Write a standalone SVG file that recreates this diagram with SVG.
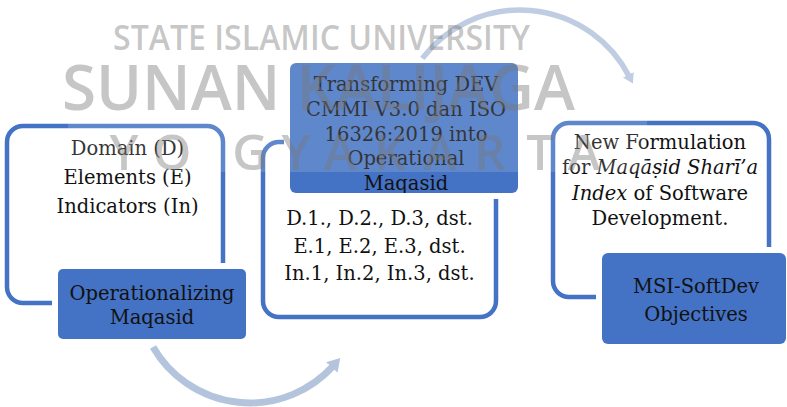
<svg xmlns="http://www.w3.org/2000/svg" width="787" height="407" viewBox="0 0 787 407">
<style>
.outer{fill:none;stroke:#4472C4;stroke-width:4.5}
.halo{fill:#fff}
.box{fill:#4472C4}
.t{font-family:"DejaVu Serif","Liberation Serif",serif;font-size:19.5px;fill:#111;text-anchor:middle}
.i{font-style:italic}
.arc{fill:none;stroke:#B4C4DC}
.wm{font-family:"Open Sans","Noto Sans",sans-serif;font-weight:600;fill:#777;fill-opacity:.42}
</style>
<defs>
<marker id="ah" viewBox="0 -1.1 1.8 2.2" markerWidth="1.8" markerHeight="2.2" refX="0.3" refY="0" orient="auto" markerUnits="strokeWidth">
<path d="M0,-1.1 L1.8,0 L0,1.1 z" fill="#B4C4DC"/>
</marker>
<clipPath id="cm"><rect x="290" y="63" width="228" height="130" rx="6"/></clipPath>
</defs>
<rect width="787" height="407" fill="#fff"/>

<g id="node-operationalizing">
<rect class="outer" x="7" y="126" width="216" height="177" rx="16"/>
<text class="t" x="127.5" y="155">Domain (D)</text>
<text class="t" x="127.5" y="184">Elements (E)</text>
<text class="t" x="127.5" y="213">Indicators (In)</text>
<rect class="halo" x="52" y="263" width="200" height="82" rx="9"/>
<rect class="box" x="58" y="269" width="188" height="70" rx="5"/>
<text class="t" x="152" y="300">Operationalizing</text>
<text class="t" x="152" y="324">Maqasid</text>
</g>

<g id="node-transforming">
<rect class="outer" x="263" y="142" width="233" height="175" rx="16"/>
<text class="t" x="379.5" y="225">D.1., D.2., D.3, dst.</text>
<text class="t" x="379.5" y="253">E.1, E.2, E.3, dst.</text>
<text class="t" x="379.5" y="280">In.1, In.2, In.3, dst.</text>
<rect class="halo" x="284" y="57" width="240" height="142" rx="10"/>
<rect class="box" x="290" y="63" width="228" height="130" rx="6"/>
<g clip-path="url(#cm)">
<text class="t" x="406" y="91">Transforming DEV</text>
<text class="t" x="406" y="116">CMMI V3.0 dan ISO</text>
<text class="t" x="406" y="141">16326:2019 into</text>
<text class="t" x="406" y="165">Operational</text>
<text class="t" x="406" y="190">Maqasid</text>
</g>
</g>

<g id="node-msi">
<rect class="outer" x="553" y="123" width="216" height="174" rx="16"/>
<text class="t" x="660" y="149">New Formulation</text>
<text class="t" x="660" y="174">for <tspan class="i">Maqāṣid Sharī’a</tspan></text>
<text class="t" x="660" y="199.5"><tspan class="i">Index</tspan> of Software</text>
<text class="t" x="660" y="225">Development.</text>
<rect class="halo" x="596" y="247" width="196" height="103" rx="10"/>
<rect class="box" x="602" y="253" width="184" height="91" rx="6"/>
<text class="t" x="696" y="293">MSI-SoftDev</text>
<text class="t" x="696" y="321">Objectives</text>
</g>

<g id="connectors">
<path class="arc" stroke-width="7" d="M153,347 A112,112 0 0 0 333.2,365.9" marker-end="url(#ah)"/>
<path class="arc" stroke-width="5.5" d="M422.3,58.3 A123,123 0 0 1 629.1,76.2" marker-end="url(#ah)"/>
</g>

<g id="watermark">
<rect x="68" y="0" width="579" height="172" fill="#fff" fill-opacity="0.15"/>
<text class="wm" x="113" y="50" font-size="35" textLength="417" lengthAdjust="spacingAndGlyphs">STATE ISLAMIC UNIVERSITY</text>
<text class="wm" x="62" y="110" font-size="63" textLength="513" lengthAdjust="spacingAndGlyphs">SUNAN KALIJAGA</text>
<text class="wm" font-size="49" text-anchor="middle" x="124 172 250 296 340 390 440 490 540 584" y="170">YOGYAKARTA</text>
</g>
</svg>
